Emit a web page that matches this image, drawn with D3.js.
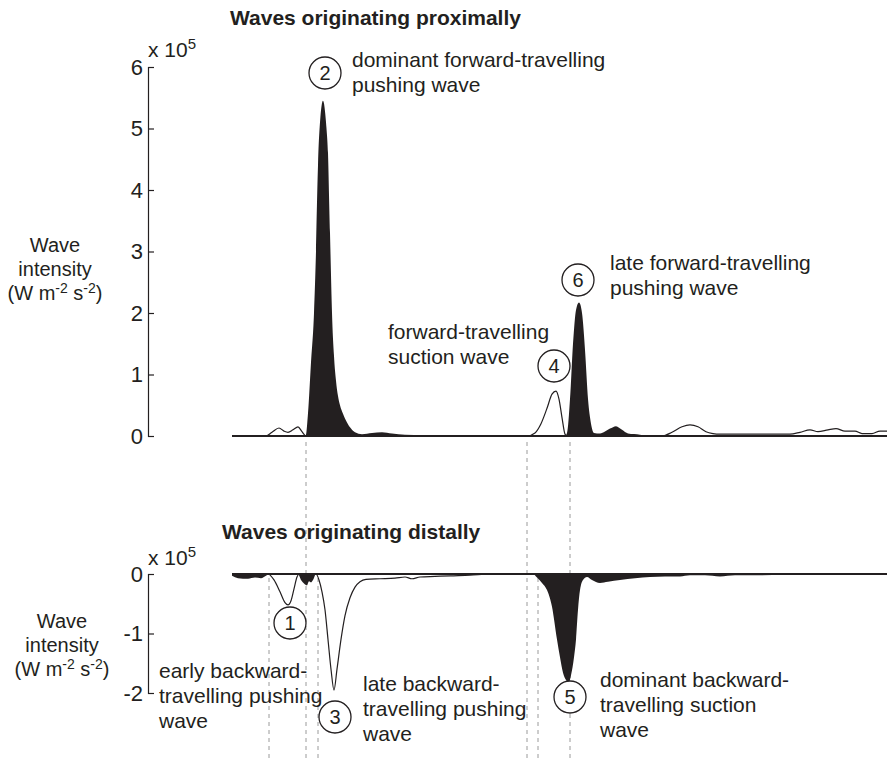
<!DOCTYPE html>
<html>
<head>
<meta charset="utf-8">
<script src="https://cdn.jsdelivr.net/npm/d3@7"></script>
<style>
  body { margin: 0; background: #fff; }
  text { font-family: "Liberation Sans", Arial, sans-serif; fill: #231f20; }
</style>
</head>
<body>
<div id="chart"></div>
<script>
// time in ms from start of recording window
// proximal (forward) waves, black = pushing, outline = suction
const proxPushT = [0, 73, 74, 76, 79, 82, 84, 86, 88, 91, 94, 96, 98, 100, 102, 104, 106, 108, 111, 115, 119, 123, 130, 140, 150, 160, 173, 208, 295, 298,
                   333, 335, 338, 341, 344, 347, 350, 353, 356, 359, 362, 368, 378, 384, 390, 396, 408, 413, 655];
const proxPushV = [0, 0, 0.02, 0.37, 1.2, 2.0, 3.0, 4.4, 5.1, 5.45, 5.1, 4.6, 3.3, 2.0, 1.3, 0.9, 0.65, 0.5, 0.36, 0.22, 0.12, 0.06, 0.03, 0.05, 0.06, 0.04, 0.02, 0.01, 0.01, 0,
                   0, 0.05, 0.6, 1.5, 2.05, 2.17, 2.0, 1.4, 0.6, 0.2, 0.05, 0.04, 0.12, 0.16, 0.1, 0.04, 0.02, 0, 0];

const proxSuckT = [0, 34, 40, 47, 52, 56, 61, 66, 70, 74, 295, 303, 309, 315, 320, 324, 327, 330, 333, 335,
                   430, 440, 450, 458, 466, 474, 481, 488, 558, 568, 578, 586, 596, 604, 613, 623, 630, 640, 648, 655];
const proxSuckV = [0, 0, 0.06, 0.13, 0.08, 0.06, 0.1, 0.15, 0.07, 0, 0, 0.05, 0.2, 0.45, 0.68, 0.73, 0.6, 0.3, 0.03, 0,
                   0, 0.06, 0.15, 0.18, 0.15, 0.07, 0.04, 0.03, 0.03, 0.06, 0.1, 0.07, 0.1, 0.12, 0.08, 0.08, 0.04, 0.04, 0.08, 0.08];

// distal (backward) waves, black = suction, outline = pushing
const distSuckT = [0, 6, 16, 23, 29, 34, 37, 66, 69, 72, 75, 77, 79, 81, 84,
                   301, 305, 310, 315, 320, 325, 328, 331, 334, 337, 339, 342, 344, 346, 348, 351, 355, 360, 368, 376, 388, 403, 418, 433, 448, 458, 473, 488, 503, 528, 551, 558, 655];
const distSuckV = [-0.03, -0.07, -0.08, -0.06, -0.07, -0.03, 0, 0, -0.1, -0.16, -0.19, -0.12, -0.14, -0.1, 0,
                   0, -0.06, -0.15, -0.27, -0.55, -1.1, -1.4, -1.66, -1.78, -1.82, -1.7, -1.4, -1.1, -0.6, -0.27, -0.1, -0.05, -0.1, -0.15, -0.13, -0.1, -0.07, -0.05, -0.04, -0.04, -0.02, -0.02, -0.04, -0.02, -0.02, -0.01, 0, 0];

const distPushT = [0, 36, 42, 48, 53, 56, 59, 62, 65, 67, 84, 87, 90, 93, 96, 99, 102, 105, 109, 113, 118, 123, 128, 134, 148, 163, 173, 180, 188, 203, 218, 238, 258, 655];
const distPushV = [0, 0, -0.1, -0.3, -0.48, -0.52, -0.45, -0.25, -0.05, 0, 0, -0.1, -0.3, -0.6, -1.1, -1.6, -1.95, -1.6, -1.1, -0.7, -0.4, -0.22, -0.13, -0.09, -0.08, -0.07, -0.05, -0.08, -0.05, -0.04, -0.03, -0.02, 0, 0];

// wave onset times marked with dashed lines
const onsetsBoth = [74, 295, 338];
const onsetsDistal = [37, 86, 306];

const proxTicks = [0, 1, 2, 3, 4, 5, 6];
const distTicks = [-2, -1, 0];

const width = 887, height = 759;
const ink = "#231f20";

const svg = d3.select("#chart")
  .append("svg")
  .attr("width", width)
  .attr("height", height);

const x = d3.scaleLinear().domain([0, 655]).range([232, 887]);
const yTop = d3.scaleLinear().domain([0, 6]).range([436, 67]);
const yBot = d3.scaleLinear().domain([-2, 0]).range([693, 574]);

const pts = (T, V) => T.map((t, i) => [t, V[i]]);

// dashed onset lines
svg.append("g")
  .attr("stroke", "#9a9a9a")
  .attr("stroke-dasharray", "4,4")
  .selectAll("line")
  .data(onsetsBoth)
  .join("line")
  .attr("x1", d => x(d)).attr("x2", d => x(d))
  .attr("y1", yTop(0) + 6).attr("y2", height);

svg.append("g")
  .attr("stroke", "#9a9a9a")
  .attr("stroke-dasharray", "4,4")
  .selectAll("line")
  .data(onsetsDistal)
  .join("line")
  .attr("x1", d => x(d)).attr("x2", d => x(d))
  .attr("y1", yBot(0) + 4).attr("y2", height);

function panel(y, filled, outline, ticks) {
  const area = d3.area().curve(d3.curveMonotoneX)
    .x(d => x(d[0])).y0(y(0)).y1(d => y(d[1]));
  const line = d3.line().curve(d3.curveMonotoneX)
    .x(d => x(d[0])).y(d => y(d[1]));

  svg.append("path")
    .datum(filled)
    .attr("fill", ink)
    .attr("d", area);

  svg.append("path")
    .datum(outline)
    .attr("fill", "none")
    .attr("stroke", ink)
    .attr("stroke-width", 1.2)
    .attr("d", line);

  // zero line
  svg.append("line")
    .attr("x1", x(0)).attr("x2", x(655))
    .attr("y1", y(0)).attr("y2", y(0))
    .attr("stroke", ink)
    .attr("stroke-width", 2);

  const axis = d3.axisLeft(y)
    .tickValues(ticks)
    .tickFormat(d => String(d))   // plain hyphen, like the original
    .tickSizeInner(-6)
    .tickSizeOuter(-6)
    .tickPadding(5);

  const g = svg.append("g")
    .attr("transform", "translate(148,0)")
    .call(axis);
  g.selectAll("path, line").attr("stroke", ink).attr("stroke-width", 1.2);
  g.selectAll("text")
    .attr("font-size", 22)
    .attr("font-family", "Liberation Sans, Arial, sans-serif")
    .attr("fill", ink);
}

panel(yTop, pts(proxPushT, proxPushV), pts(proxSuckT, proxSuckV), proxTicks);
panel(yBot, pts(distSuckT, distSuckV), pts(distPushT, distPushV), distTicks);

// titles
svg.append("text")
  .attr("x", 230).attr("y", 25)
  .attr("font-size", 21).attr("font-weight", "bold")
  .text("Waves originating proximally");

svg.append("text")
  .attr("x", 222).attr("y", 539)
  .attr("font-size", 21).attr("font-weight", "bold")
  .text("Waves originating distally");

// multiplier labels
function scaleLabel(yb) {
  const t = svg.append("text").attr("x", 148).attr("y", yb).attr("font-size", 21);
  t.append("tspan").text("x 10");
  t.append("tspan").attr("font-size", 15).attr("dy", -8).text("5");
}
scaleLabel(57);
scaleLabel(565);

// y labels
function yLabel(cx, y0) {
  const g = svg.append("text").attr("text-anchor", "middle").attr("font-size", 20);
  g.append("tspan").attr("x", cx).attr("y", y0).text("Wave");
  g.append("tspan").attr("x", cx).attr("y", y0 + 24).text("intensity");
  const l3 = g.append("tspan").attr("x", cx).attr("y", y0 + 48);
  l3.text("(W m");
  g.append("tspan").attr("font-size", 14).attr("dy", -7).text("-2");
  g.append("tspan").attr("dy", 7).text(" s");
  g.append("tspan").attr("font-size", 14).attr("dy", -7).text("-2");
  g.append("tspan").attr("dy", 7).text(")");
}
yLabel(55, 252);
yLabel(62, 628);

// numbered circles
const circles = [
  { n: 2, cx: 325, cy: 73 },
  { n: 4, cx: 554, cy: 366 },
  { n: 6, cx: 578, cy: 280 },
  { n: 1, cx: 290, cy: 623 },
  { n: 3, cx: 335, cy: 717 },
  { n: 5, cx: 570, cy: 697 }
];

const cg = svg.append("g")
  .selectAll("g")
  .data(circles)
  .join("g")
  .attr("transform", d => `translate(${d.cx},${d.cy})`);
cg.append("circle")
  .attr("r", 16)
  .attr("fill", "white")
  .attr("stroke", ink)
  .attr("stroke-width", 1.3);
cg.append("text")
  .attr("text-anchor", "middle")
  .attr("dy", "0.35em")
  .attr("font-size", 20)
  .text(d => d.n);

// annotation text
const notes = [
  { x: 352, y: 67, lines: ["dominant forward-travelling", "pushing wave"] },
  { x: 388, y: 339, lines: ["forward-travelling", "suction wave"] },
  { x: 610, y: 270, lines: ["late forward-travelling", "pushing wave"] },
  { x: 159, y: 678, lines: ["early backward-", "travelling pushing", "wave"] },
  { x: 363, y: 691, lines: ["late backward-", "travelling pushing", "wave"] },
  { x: 600, y: 687, lines: ["dominant backward-", "travelling suction", "wave"] }
];

svg.append("g")
  .attr("font-size", 21)
  .selectAll("text")
  .data(notes)
  .join("text")
  .selectAll("tspan")
  .data(d => d.lines.map((s, i) => ({ s, x: d.x, y: d.y + i * 25 })))
  .join("tspan")
  .attr("x", d => d.x)
  .attr("y", d => d.y)
  .text(d => d.s);
</script>
</body>
</html>
